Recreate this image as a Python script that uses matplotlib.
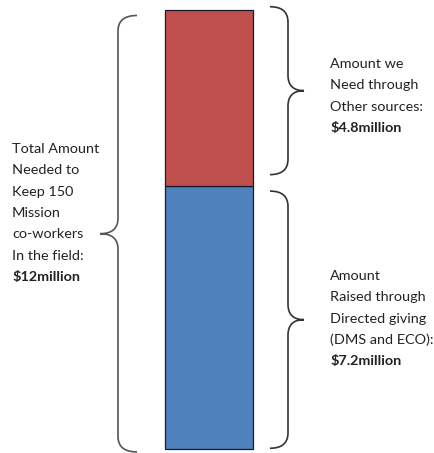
import matplotlib
matplotlib.use("Agg")
import matplotlib.pyplot as plt
from matplotlib.path import Path
from matplotlib.patches import PathPatch

# ---- data ----
segments = ["Directed giving", "Other sources"]
values = [7.2, 4.8]          # $ million
seg_colors = ["#4F81BD", "#C0504D"]
total_label = ["Total Amount", "Needed to", "Keep 150", "Mission", "co-workers", "In the field:"]
total_value = "$12million"
seg_labels = [["Amount", "Raised through", "Directed giving", "(DMS and ECO):"],
              ["Amount we", "Need through", "Other sources:"]]
seg_values = ["$7.2million", "$4.8million"]

plt.rcParams['font.family'] = ['Lato', 'DejaVu Sans']

W, H = 435, 453
fig = plt.figure(figsize=(W / 100, H / 100), dpi=100)
ax = fig.add_axes([0, 0, 1, 1])
total = sum(values)
ppu = 439 / total
ax.set_xlim(0, W)
ax.set_ylim(-4 / ppu, total + 10 / ppu)
ax.axis('off')

bar_x = 209
bottom = 0
for v, c in zip(values, seg_colors):
    ax.bar(bar_x, v, width=88, bottom=bottom, color=c, edgecolor='#1a1a2e', linewidth=0.9)
    bottom += v

def brace(x_end, x_body, x_tip, y0, y1, r=0.42, color='#404040', lw=1.2):
    ym = (y0 + y1) / 2
    verts = [(x_end, y1), (x_body, y1), (x_body, y1 - r),
             (x_body, ym + r), (x_body, ym), (x_tip, ym),
             (x_body, ym), (x_body, ym - r),
             (x_body, y0 + r), (x_body, y0), (x_end, y0)]
    codes = [Path.MOVETO, Path.CURVE3, Path.CURVE3,
             Path.LINETO, Path.CURVE3, Path.CURVE3,
             Path.CURVE3, Path.CURVE3,
             Path.LINETO, Path.CURVE3, Path.CURVE3]
    ax.add_patch(PathPatch(Path(verts, codes), fill=False, edgecolor=color, lw=lw))

# left brace (total)
brace(137, 118, 100, -0.08, total - 0.15, color='#555555')
# right braces
brace(270, 288, 304, 0.02, values[0] - 0.15, color='#333333')
brace(270, 288, 304, values[0] + 0.3, total + 0.09, color='#333333')

tc = '#222222'
fs = 10.4
def block(x, y_top_px, lines, val, step=21.3):
    y = y_top_px
    for ln in lines:
        ax.text(x, ax.get_ylim()[1] - y / ppu, ln, fontsize=fs, color=tc, va='center', ha='left')
        y += step
    ax.text(x, ax.get_ylim()[1] - y / ppu, val, fontsize=fs, color=tc, va='center', ha='left', fontweight='bold')

block(12, 149, total_label, total_value)
block(330, 64, seg_labels[1], seg_values[1])
block(330, 276, seg_labels[0], seg_values[0])

fig.savefig("out.png", dpi=100)
